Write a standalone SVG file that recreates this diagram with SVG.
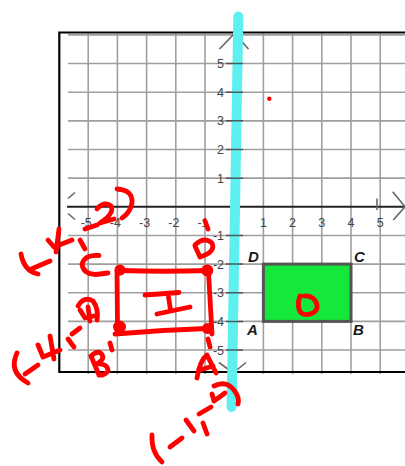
<svg xmlns="http://www.w3.org/2000/svg" width="405" height="466" viewBox="0 0 405 466">
<style>
.grid{stroke:#9f9f9f;stroke-width:1.6;fill:none}
.ax{stroke:#222;stroke-width:2;fill:none}
.arr{stroke:#666;stroke-width:1.6;fill:none}
.tk{stroke:#444;stroke-width:1.5;opacity:.85}
.num{font-family:"Liberation Sans",Arial,sans-serif;font-size:12.5px;fill:#444}
.ltr{font-family:"Liberation Sans",Arial,sans-serif;font-size:15px;font-weight:bold;font-style:italic;fill:#1a1a1a}
.red{fill:none;stroke:#ff0000;stroke-width:4.8;stroke-linecap:round;stroke-linejoin:round}
.dot{fill:#ff0000}
</style>
<rect width="405" height="466" fill="#fff"/>
<g id="grid" class="grid">
<path d="M88.2 33V374M117.4 33V374M146.6 33V374M175.8 33V374M205 33V374M234.2 33V374M263.4 33V374M292.6 33V374M321.8 33V374M351 33V374M380.2 33V374"/>
<path d="M68 34.9H405M68 63.55H405M68 92.2H405M68 120.85H405M68 149.5H405M68 178.15H405M68 235.45H405M68 264.1H405M68 292.75H405M68 321.4H405M68 350.05H405"/>
</g>
<g id="frame">
<path d="M405 32.5H59.3V372H405" fill="none" stroke="#000" stroke-width="2.2"/>
<path class="ax" d="M67 206.8H404"/>
<path class="arr" d="M392.7 191.7L405 206.8L393.3 220M68 198.5L75 192.5M68 213.5L75 219.5M219.5 49L234.5 33.5L248.5 49M219 362.5L233 373L246 362.5M377 198.5V210"/>
</g>
<g id="x-labels" class="num" text-anchor="middle">
<text x="86.2" y="227">-5</text><text x="115.4" y="227">-4</text><text x="144.6" y="227">-3</text><text x="173.8" y="227">-2</text><text x="203" y="227">-1</text>
<text x="263.4" y="227">1</text><text x="292.6" y="227">2</text><text x="321.8" y="227">3</text><text x="351" y="227">4</text><text x="380.2" y="227">5</text>
</g>
<g id="y-labels" class="num" text-anchor="end">
<text x="224" y="68">5</text><text x="224" y="96.7">4</text><text x="224" y="125.4">3</text><text x="224" y="154">2</text><text x="224" y="182.7">1</text>
<text x="224" y="240">-1</text><text x="224" y="268.6">-2</text><text x="224" y="297.3">-3</text><text x="224" y="326">-4</text><text x="224" y="354.5">-5</text>
</g>
<g id="rect-ABCD">
<rect x="263.4" y="264.1" width="87.6" height="57.3" fill="#14e83a" stroke="#555" stroke-width="3"/>
<text class="ltr" x="248" y="262">D</text>
<text class="ltr" x="354" y="262">C</text>
<text class="ltr" x="247" y="335">A</text>
<text class="ltr" x="353" y="335">B</text>
</g>
<g id="mirror-line">
<line x1="238.3" y1="16.5" x2="231.6" y2="407" stroke="#5ef0f0" stroke-width="10" stroke-linecap="round"/>
<path class="tk" d="M226 63.55H243M226 92.2H243M226 120.85H243M226 149.5H243M226 178.15H243M226 235.45H243M226 264.1H243M226 292.75H243M226 321.4H243M226 350.05H243"/>
</g>
<g id="handwriting">
<circle class="dot" cx="269.3" cy="98.7" r="2.2"/>
<path class="red" d="M300 296C297 303 298 312 303 314C310 316 318 312 317 305C316 299 310 295 304 296"/>
<g id="rect-I">
<path class="red" d="M120 270.5Q165 272 207.5 270.5M117 271L117.5 327M208.5 272Q210 300 212 334M115 334Q160 330 207 328.5"/>
<circle class="dot" cx="120" cy="270" r="5.5"/>
<circle class="dot" cx="207.3" cy="270.5" r="6"/>
<circle class="dot" cx="119.5" cy="327" r="6.5"/>
<circle class="dot" cx="207.5" cy="328.5" r="5.5"/>
<path class="red" d="M145 295L179 292.5M168.5 297L170.5 310M157 314L190 307"/>
</g>
<path id="label-C" class="red" d="M21 254Q24 271 38 274M29 270L50 261M48 240L54 247L72 240M59 229L56 252M80 240L85 249M85 229L97 225M97 209Q104 201 111 206Q115 213 100 223L114 219M117 189Q133 190 132 203Q130 213 122 218M99 255.5Q85 254 82 264Q83 274 96 274.5L108 273"/>
<path id="label-D" class="red" d="M195 246L200 257M195 245Q204 236 212 243Q216 252 200 257M205 221L208 229"/>
<path id="label-B" class="red" d="M17 353Q8 372 28 383M25 374L38 365M38 345L43 357L60 350M50 336L54 359M68 339L74 347M72 334L80 328M78 306Q84 296 93 301Q99 309 97 320M80 310L85 318L94 316M88 307L90 321M91 356L99 375M91 356Q100 348 103 357Q102 362 96 364Q108 363 108 371Q104 376 99 375M110 343L112 350"/>
<path id="label-A" class="red" d="M197 378Q200 360 207 355Q212 365 216 373M200 370L213 366M208 339L210 347M152 435Q151 452 162 462M170 447L182 438M186 420L194 431M203 423L207 434M199 414L211 407M214 386Q226 380 234 390Q240 398 238 404M212 394L214 401L225 393"/>
</g>
</svg>
